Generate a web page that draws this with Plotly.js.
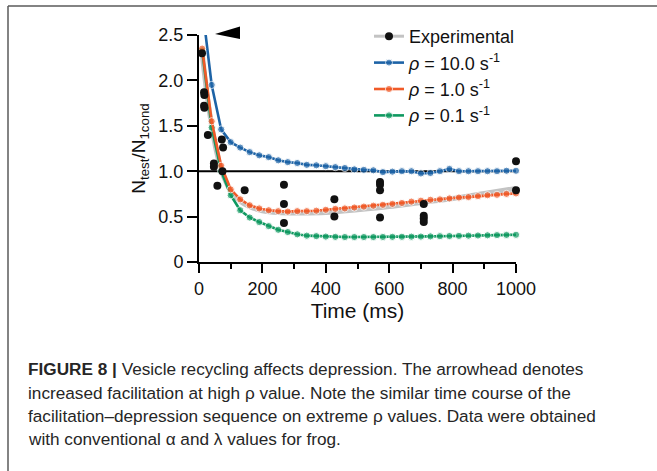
<!DOCTYPE html>
<html>
<head>
<meta charset="utf-8">
<script src="https://cdn.plot.ly/plotly-3.0.1.min.js"></script>
<style>
  html, body { margin: 0; padding: 0; background: #ffffff; }
  #chart { width: 657px; height: 471px; }
</style>
</head>
<body>
<div id="chart"></div>
<script>
// ---- data ----
const modelTime = [10, 40, 70, 100, 130, 160, 190, 220, 250, 280, 310, 340, 370, 400, 430, 460, 490,
  520, 550, 580, 610, 640, 670, 700, 730, 760, 790, 820, 850, 880, 910, 940, 970, 1000];

const rho10 = [2.82, 1.95, 1.46, 1.32, 1.26, 1.21, 1.175, 1.155, 1.12, 1.10, 1.09, 1.07, 1.065, 1.055, 1.045, 1.035, 1.02,
  1.015, 1.01, 0.99, 0.995, 1.0, 1.0, 0.975, 0.98, 1.0, 1.025, 1.0, 1.0, 1.0, 1.0, 1.0, 1.005, 1.005];

const rho1 = [2.35, 1.55, 1.06, 0.80, 0.69, 0.625, 0.59, 0.57, 0.56, 0.555, 0.56, 0.56, 0.565, 0.575, 0.585, 0.59, 0.60,
  0.61, 0.62, 0.63, 0.64, 0.65, 0.665, 0.675, 0.685, 0.69, 0.70, 0.71, 0.715, 0.725, 0.735, 0.74, 0.75, 0.755];

const rho01 = [2.33, 1.48, 1.00, 0.735, 0.57, 0.49, 0.44, 0.395, 0.355, 0.33, 0.305, 0.29, 0.285, 0.28, 0.277, 0.275, 0.275,
  0.275, 0.275, 0.276, 0.277, 0.278, 0.279, 0.28, 0.282, 0.284, 0.286, 0.288, 0.29, 0.292, 0.294, 0.296, 0.298, 0.30];

const expTime = [9.5, 16, 17, 16, 17, 28, 47, 47, 58, 72, 76, 74, 144, 268, 268, 268, 427, 427,
  571, 571, 571, 571, 709, 709, 709, 709, 1000, 1000];
const expValue = [2.30, 1.87, 1.84, 1.72, 1.70, 1.40, 1.085, 1.05, 0.84, 1.35, 1.26, 1.00, 0.79, 0.85, 0.64, 0.43, 0.69, 0.50,
  0.88, 0.85, 0.79, 0.49, 0.64, 0.51, 0.48, 0.44, 1.11, 0.79];

const fitTime = [10, 25, 40, 55, 70, 85, 100, 130, 160, 200, 250, 300, 400, 500, 600, 700, 800, 900, 1000];
const fitValue = [2.30, 1.85, 1.50, 1.22, 1.02, 0.88, 0.78, 0.67, 0.61, 0.565, 0.545, 0.54, 0.545, 0.575, 0.61, 0.655, 0.70, 0.755, 0.81];

const seriesNames = ['Experimental', '<i>ρ</i> = 10.0 s<sup>-1</sup>', '<i>ρ</i> = 1.0 s<sup>-1</sup>', '<i>ρ</i> = 0.1 s<sup>-1</sup>'];
const xTickVals = [0, 200, 400, 600, 800, 1000];
const xTickText = ['0', '200', '400', '600', '800', '1000'];
const yTickVals = [0, 0.5, 1.0, 1.5, 2.0, 2.5];
const yTickText = ['0', '0.5', '1.0', '1.5', '2.0', '2.5'];
const referenceLevel = 1.0;

const captionLines = [
  '<b>FIGURE 8 |</b> Vesicle recycling affects depression. The arrowhead denotes',
  'increased facilitation at high ρ value. Note the similar time course of the',
  'facilitation–depression sequence on extreme ρ values. Data were obtained',
  'with conventional α and λ values for frog.'
];

// ---- styling ----
const BLUE = '#1d63a6', ORANGE = '#f05a28', GREEN = '#0f9960', GRAY = '#c3c3c3';
const FONT = 'Liberation Sans, Arial, sans-serif';
const yMax = 2.5;

// experimental points separated by gaps so that no line joins them (line only shows in the legend)
const expX = [], expY = [];
expTime.forEach((t, i) => { expX.push(t, null); expY.push(expValue[i], null); });

function modelTrace(y, color, name, rank) {
  return {
    type: 'scatter', mode: 'lines+markers', x: modelTime, y: y, name: name, legendrank: rank,
    line: { color: color, width: 2.6 },
    marker: { color: color, size: y.map(v => (v > yMax ? 0 : 7.2)) },
    cliponaxis: false, hoverinfo: 'x+y'
  };
}

const traces = [
  { type: 'scatter', mode: 'lines', x: fitTime, y: fitValue, showlegend: false,
    line: { color: GRAY, width: 5, shape: 'spline', smoothing: 0.8 }, hoverinfo: 'skip' },
  modelTrace(rho10, BLUE, seriesNames[1], 2),
  modelTrace(rho01, GREEN, seriesNames[3], 4),
  modelTrace(rho1, ORANGE, seriesNames[2], 3),
  { type: 'scatter', mode: 'lines+markers', x: expX, y: expY, connectgaps: false,
    name: seriesNames[0], legendrank: 1,
    line: { color: GRAY, width: 3 }, marker: { color: '#111111', size: 8 }, cliponaxis: false }
];

// plot-area pixel geometry (used only to place decorations in paper units)
const L = 199, R = 141, T = 35, B = 209, W = 657, H = 471;
const pw = W - L - R, ph = H - T - B;
const px = x => (x - L) / pw;
const py = y => (H - B - y) / ph;

const annotations = captionLines.map((txt, i) => ({
  xref: 'paper', yref: 'paper', x: px(26), y: py([369, 393, 416, 439][i]),
  xanchor: 'left', yanchor: 'middle', showarrow: false, align: 'left',
  text: txt, font: { family: 'Liberation Sans, Arial, sans-serif', size: 17.2, color: '#262626' }
}));

const shapes = [
  { type: 'line', xref: 'x', yref: 'y', x0: 0, x1: 1000, y0: referenceLevel, y1: referenceLevel,
    line: { color: '#000000', width: 2 }, layer: 'below' },
  { type: 'path', xref: 'paper', yref: 'paper',
    path: `M ${px(215)} ${py(34)} L ${px(240)} ${py(26.5)} L ${px(240)} ${py(39)} Z`,
    fillcolor: '#000000', line: { width: 0 } },
  { type: 'line', xref: 'paper', yref: 'paper', x0: px(8), x1: px(660), y0: py(6), y1: py(6),
    line: { color: '#5a5a5a', width: 1.5 } },
  { type: 'line', xref: 'paper', yref: 'paper', x0: px(8), x1: px(8), y0: py(6), y1: py(475),
    line: { color: '#5a5a5a', width: 1.5 } }
];

const layout = {
  width: W, height: H,
  margin: { l: L, r: R, t: T, b: B, pad: 0 },
  paper_bgcolor: '#ffffff', plot_bgcolor: '#ffffff',
  font: { family: FONT, color: '#111111', size: 18 },
  showlegend: true,
  legend: { x: px(369), y: py(18), xanchor: 'left', yanchor: 'top', bgcolor: 'rgba(0,0,0,0)',
    font: { family: FONT, size: 18, color: '#111111' }, itemwidth: 30, tracegroupgap: 0 },
  xaxis: {
    range: [0, 1000], tickmode: 'array', tickvals: xTickVals, ticktext: xTickText,
    showgrid: false, zeroline: false, showline: true, linecolor: '#000000', linewidth: 2,
    ticks: 'outside', ticklen: 9, tickwidth: 2, tickcolor: '#000000',
    tickfont: { family: FONT, size: 18, color: '#111111' }, automargin: true,
    minor: { ticks: 'outside', ticklen: 5, tickwidth: 2, tickcolor: '#000000', dtick: 100, tick0: 0, showgrid: false },
    title: { text: 'Time (ms)', font: { family: FONT, size: 21, color: '#111111' }, standoff: 2 }
  },
  yaxis: {
    range: [0, yMax], tickmode: 'array', tickvals: yTickVals, ticktext: yTickText,
    showgrid: false, zeroline: false, showline: true, linecolor: '#000000', linewidth: 2,
    ticks: 'outside', ticklen: 10, tickwidth: 2, tickcolor: '#000000',
    tickfont: { family: FONT, size: 18, color: '#111111' },
    title: { text: 'N<sub>test</sub>/N<sub>1cond</sub>', font: { family: FONT, size: 19, color: '#111111' }, standoff: 8 }
  },
  shapes: shapes,
  annotations: annotations
};

Plotly.newPlot('chart', traces, layout, { displayModeBar: false, staticPlot: true });
</script>
</body>
</html>
